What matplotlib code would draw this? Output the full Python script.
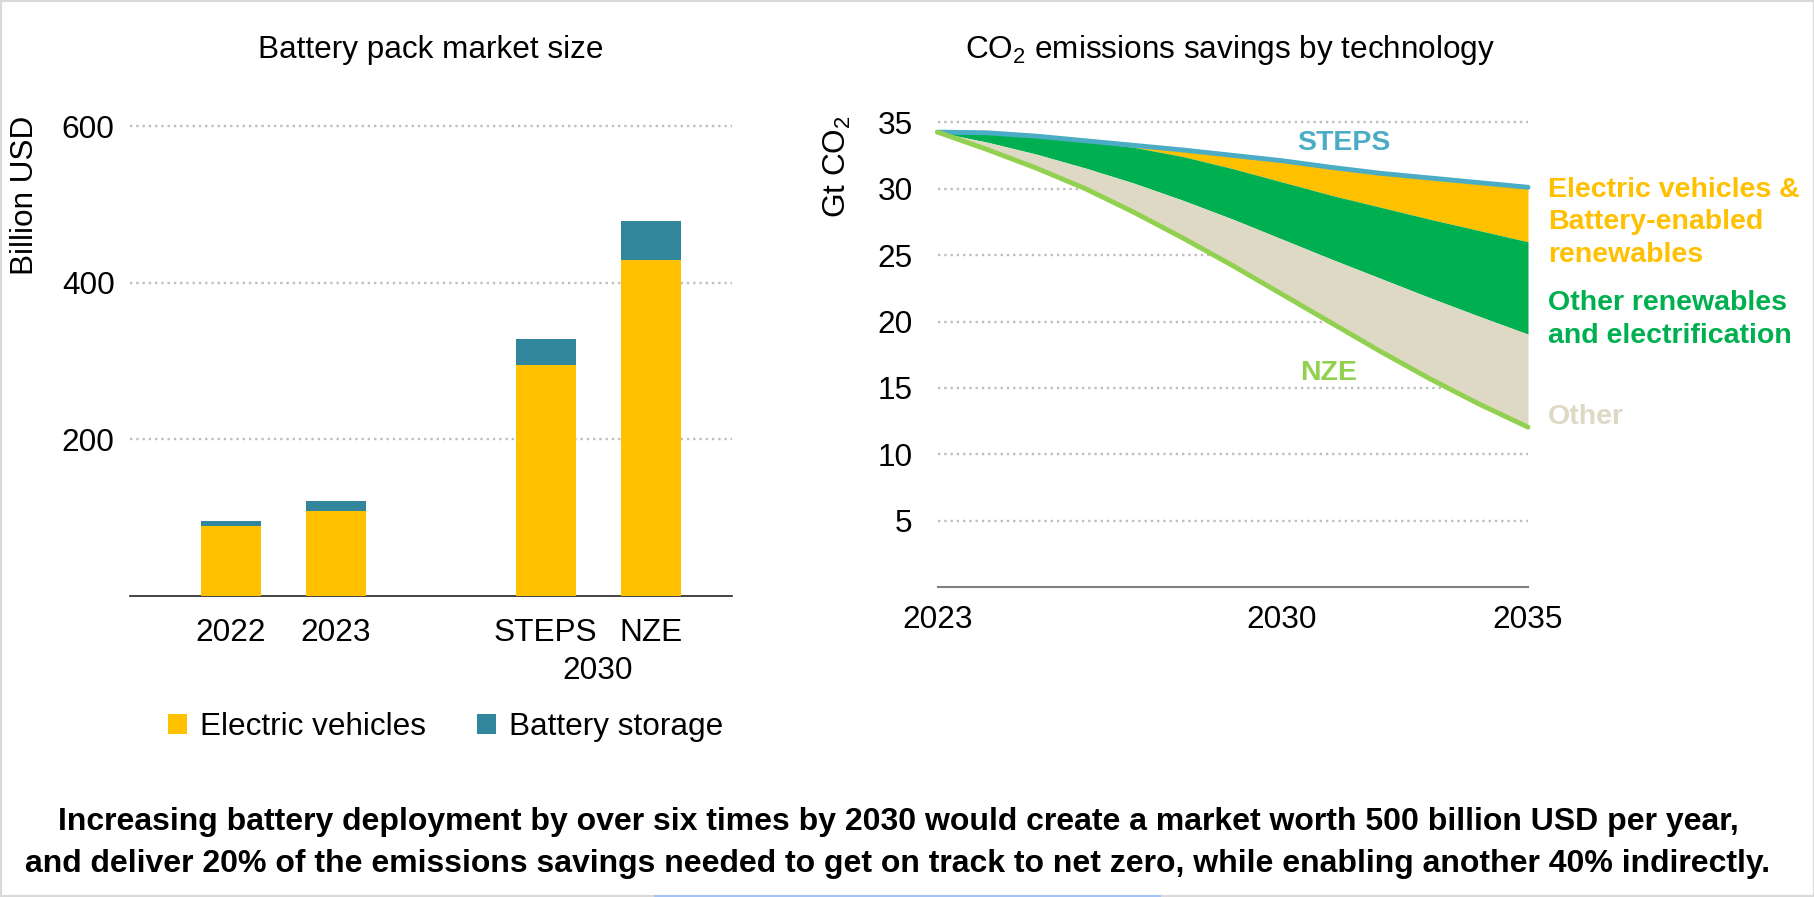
import matplotlib
matplotlib.use('Agg')
import matplotlib.pyplot as plt
from matplotlib.patches import Rectangle

plt.rcParams['font.family'] = ['Liberation Sans', 'DejaVu Sans']
plt.rcParams['mathtext.fontset'] = 'custom'
plt.rcParams['mathtext.rm'] = 'Liberation Sans'
plt.rcParams['mathtext.it'] = 'Liberation Sans:italic'
plt.rcParams['mathtext.bf'] = 'Liberation Sans:bold'

# ---------------- data ----------------
bar_labels = ['2022', '2023', 'STEPS', 'NZE']
bar_groups = ['2022', '2023', '2030', '2030']
ev_market = [89.7, 108, 295, 429]          # billion USD
storage_market = [6, 13, 33, 50]           # billion USD
bar_yticks = [200, 400, 600]

years = [2023, 2024, 2025, 2026, 2027, 2028, 2029, 2030, 2031, 2032, 2033, 2034, 2035]
steps_emissions = [34.25, 34.2, 33.95, 33.6, 33.25, 32.9, 32.5, 32.1, 31.6, 31.15, 30.8, 30.45, 30.1]
ev_battery_lower = [34.25, 34.15, 33.9, 33.55, 33.1, 32.4, 31.5, 30.5, 29.5, 28.6, 27.7, 26.85, 26.0]
other_ren_lower = [34.25, 33.5, 32.6, 31.55, 30.4, 29.1, 27.7, 26.2, 24.7, 23.25, 21.8, 20.4, 19.05]
nze_emissions = [34.25, 32.95, 31.55, 30.0, 28.2, 26.25, 24.2, 22.05, 19.9, 17.75, 15.7, 13.8, 12.05]
line_yticks = [5, 10, 15, 20, 25, 30, 35]
line_xticks = [2023, 2030, 2035]

# ---------------- style ----------------
YELLOW = '#FFC000'
TEAL = '#31869B'
BLUE = '#4BACC6'
LGREEN = '#92D050'
GREEN = '#00B050'
BEIGE = '#DDD9C4'
GRID = '#BFBFBF'
FS = 22.7

W, H = 1815, 897
fig = plt.figure(figsize=(W / 100, H / 100), dpi=100)


def box(x0, y0, x1, y1):
    return [x0 / W, 1 - y1 / H, (x1 - x0) / W, (y1 - y0) / H]


# ---------------- left: bar chart ----------------
pos = []
p = 0
for i, g in enumerate(bar_groups):
    if i > 0 and g == '2030' and bar_groups[i - 1] != '2030':
        p += 1
    pos.append(p)
    p += 1

ax1 = fig.add_axes(box(130, 596 - 610 * 0.7833, 732, 596))
b1 = ax1.bar(pos, ev_market, width=0.57, color=YELLOW, label='Electric vehicles', zorder=3)
b2 = ax1.bar(pos, storage_market, bottom=ev_market, width=0.57, color=TEAL,
             label='Battery storage', zorder=3)
ax1.set_xlim(-0.958, 4.775)
ax1.set_ylim(0, 610)
ax1.set_yticks(bar_yticks)
ax1.set_xticks(pos, bar_labels)
ax1.set_axisbelow(True)
ax1.grid(axis='y', linestyle=':', color=GRID, linewidth=1.7)
for s in ['top', 'right', 'left']:
    ax1.spines[s].set_visible(False)
ax1.spines['bottom'].set_color('#222222')
ax1.spines['bottom'].set_linewidth(1.2)
ax1.tick_params(axis='both', length=0, labelsize=FS)
ax1.tick_params(axis='y', pad=11)
ax1.tick_params(axis='x', pad=16)
ax1.annotate('2030', xy=((pos[2] + pos[3]) / 2, 0), xycoords=('data', 'axes fraction'),
             xytext=(0, -54), textcoords='offset points', ha='center', va='center',
             fontsize=FS)

fig.text(25.5 / W, 1 - 195 / H, 'Billion USD', rotation=90, ha='center', va='center',
         fontsize=FS)
fig.text(431 / W, 1 - 50 / H, 'Battery pack market size', ha='center', va='center',
         fontsize=FS)

fig.legend(handles=[b1, b2], loc='center left', bbox_to_anchor=(168 / W, 1 - 727 / H),
           ncol=2, frameon=False, fontsize=FS, handlelength=0.6, handleheight=0.6,
           handletextpad=0.42, columnspacing=1.6, borderpad=0, borderaxespad=0)

# ---------------- right: area chart ----------------
ax2 = fig.add_axes(box(937.6, 587.3 - 35.5 * 13.29, 1528, 587.3))
ax2.fill_between(years, ev_battery_lower, steps_emissions, color=YELLOW, lw=0, zorder=2)
ax2.fill_between(years, other_ren_lower, ev_battery_lower, color=GREEN, lw=0, zorder=2)
ax2.fill_between(years, nze_emissions, other_ren_lower, color=BEIGE, lw=0, zorder=2)
ax2.plot(years, steps_emissions, color=BLUE, lw=3.5, solid_capstyle='round',
         solid_joinstyle='round', zorder=4, clip_on=False)
ax2.plot(years, nze_emissions, color=LGREEN, lw=3.5, solid_capstyle='round',
         solid_joinstyle='round', zorder=4, clip_on=False)
ax2.set_xlim(2023, 2035)
ax2.set_ylim(0, 35.5)
ax2.set_yticks(line_yticks)
ax2.set_xticks(line_xticks, [str(y) for y in line_xticks])
ax2.set_axisbelow(True)
ax2.grid(axis='y', linestyle=':', color=GRID, linewidth=1.7)
for s in ['top', 'right', 'left']:
    ax2.spines[s].set_visible(False)
ax2.spines['bottom'].set_color('#7F7F7F')
ax2.spines['bottom'].set_linewidth(1.5)
ax2.tick_params(axis='both', length=0, labelsize=FS)
ax2.tick_params(axis='y', pad=18)
ax2.tick_params(axis='x', pad=13)

fig.text(837 / W, 1 - 167 / H, r'Gt CO$_2$', rotation=90, ha='center', va='center',
         fontsize=FS)
fig.text(1230 / W, 1 - 50 / H, r'CO$_2$ emissions savings by technology', ha='center',
         va='center', fontsize=FS)

LFS = 20.5
ax2.text(2031.25, 33.4, 'STEPS', color=BLUE, fontsize=LFS, fontweight='bold',
         ha='center', va='center')
ax2.text(2030.94, 16.1, 'NZE', color=LGREEN, fontsize=LFS, fontweight='bold',
         ha='center', va='center')
ax2.text(2035.4, 27.45, 'Electric vehicles &\nBattery-enabled\nrenewables', color=YELLOW,
         fontsize=LFS, fontweight='bold', ha='left', va='center', clip_on=False,
         linespacing=1.33)
ax2.text(2035.4, 20.15, 'Other renewables\nand electrification', color=GREEN,
         fontsize=LFS, fontweight='bold', ha='left', va='center', clip_on=False,
         linespacing=1.33)
ax2.text(2035.4, 12.85, 'Other', color=BEIGE, fontsize=LFS, fontweight='bold',
         ha='left', va='center', clip_on=False)

# ---------------- bottom caption ----------------
fig.text(898 / W, 1 - 822 / H,
         'Increasing battery deployment by over six times by 2030 would create a market '
         'worth 500 billion USD per year,',
         ha='center', va='center', fontsize=23, fontweight='bold')
fig.text(898 / W, 1 - 863.5 / H,
         'and deliver 20% of the emissions savings needed to get on track to net zero, '
         'while enabling another 40% indirectly.',
         ha='center', va='center', fontsize=23, fontweight='bold')

# frame and bottom accent
fig.add_artist(Rectangle((0, 0), 1, 1, transform=fig.transFigure, fill=False,
                         edgecolor='#D9D9D9', lw=3))
fig.add_artist(Rectangle((654 / W, 0), (1161 - 654) / W, 2.5 / H,
                         transform=fig.transFigure, color='#A4C2F4', lw=0))

fig.savefig('out.png', dpi=100)
